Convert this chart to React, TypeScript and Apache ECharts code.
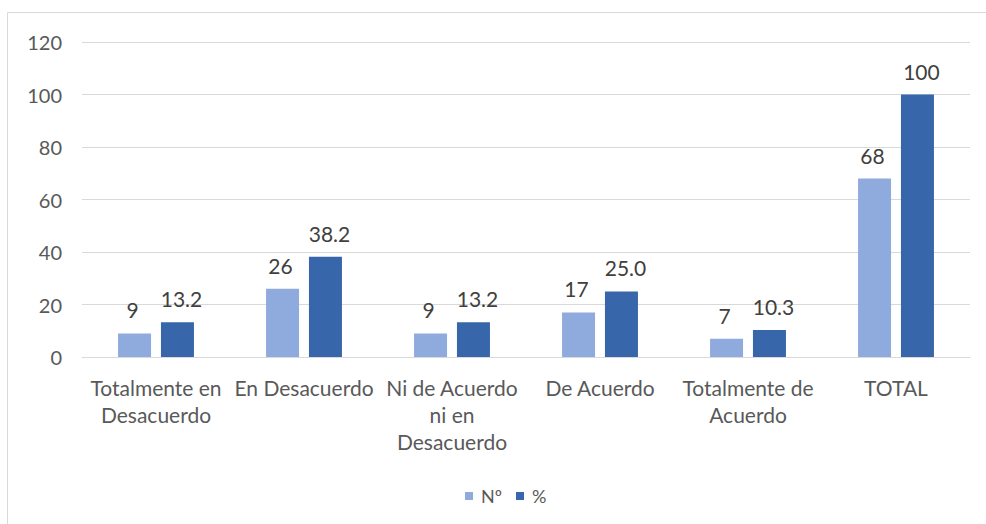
import React, { useEffect, useRef } from "react";
import * as echarts from "echarts";

const categories = [
  "Totalmente en\nDesacuerdo",
  "En Desacuerdo",
  "Ni de Acuerdo\nni en\nDesacuerdo",
  "De Acuerdo",
  "Totalmente de\nAcuerdo",
  "TOTAL",
];
const countValues = [9, 26, 9, 17, 7, 68];
const percentValues = [13.2, 38.2, 13.2, 25.0, 10.3, 100];
const seriesNames = ["Nº", "%"];
const yTicks = { min: 0, max: 120, interval: 20 };

const FONT = "Lato, 'Open Sans', sans-serif";

export default function App() {
  const ref = useRef<HTMLDivElement>(null);

  useEffect(() => {
    if (!ref.current) return;
    const chart = echarts.init(ref.current, null, { renderer: "svg" });
    const labelStyle = {
      show: true,
      position: "top" as const,
      distance: 13,
      fontSize: 21,
      color: "#404040",
      fontFamily: FONT,
    };
    chart.setOption({
      animation: false,
      backgroundColor: "#ffffff",
      textStyle: { fontFamily: FONT },
      graphic: [
        {
          type: "rect",
          shape: { x: 7.5, y: 12.5, width: 1000, height: 600 },
          style: { fill: "none", stroke: "#d9d9d9", lineWidth: 1 },
          silent: true,
        },
      ],
      grid: { left: 82, right: 16, top: 42, bottom: 167, containLabel: false },
      legend: {
        data: seriesNames,
        left: 460,
        top: 482,
        icon: "rect",
        itemWidth: 8,
        itemHeight: 8,
        itemGap: 14,
        textStyle: { fontSize: 18, color: "#595959", fontFamily: FONT, padding: [0, 0, 0, 3] },
      },
      xAxis: {
        type: "category",
        data: categories,
        axisLine: { lineStyle: { color: "#d9d9d9", width: 1 } },
        axisTick: { show: false },
        axisLabel: {
          interval: 0,
          color: "#595959",
          fontSize: 21,
          lineHeight: 27,
          margin: 17,
          fontFamily: FONT,
        },
      },
      yAxis: {
        type: "value",
        min: yTicks.min,
        max: yTicks.max,
        interval: yTicks.interval,
        axisLine: { show: false },
        axisTick: { show: false },
        splitLine: { lineStyle: { color: "#d9d9d9", width: 1 } },
        axisLabel: { color: "#595959", fontSize: 20, margin: 20, fontFamily: FONT },
      },
      series: [
        {
          name: seriesNames[0],
          type: "bar",
          data: countValues,
          barWidth: 33,
          barGap: "30%",
          itemStyle: { color: "#8FAADC" },
          label: { ...labelStyle, offset: [-2, 0] },
        },
        {
          name: seriesNames[1],
          type: "bar",
          data: percentValues,
          barWidth: 33,
          barGap: "30%",
          itemStyle: { color: "#3766AB" },
          label: {
            ...labelStyle,
            offset: [4, 0],
            formatter: (p: any) =>
              Number.isInteger(p.value) && p.value >= 100 ? String(p.value) : Number(p.value).toFixed(1),
          },
        },
      ],
    });
    return () => chart.dispose();
  }, []);

  return (
    <div
      ref={ref}
      style={{ position: "fixed", left: 0, top: 0, width: 986, height: 524, background: "#fff" }}
    />
  );
}
